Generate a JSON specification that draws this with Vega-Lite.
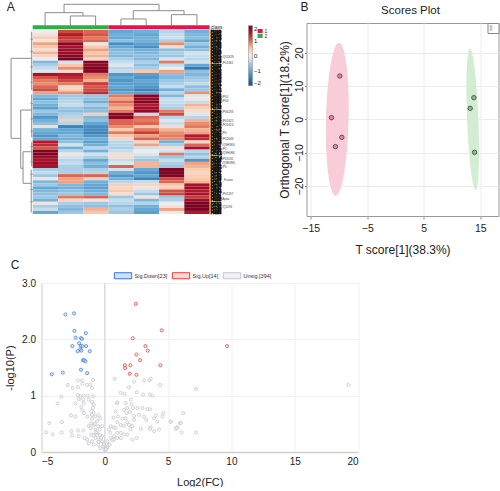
{"$schema":"https://vega.github.io/schema/vega-lite/v6.json","background":"white","padding":{"left":4.5,"top":0,"right":0,"bottom":0},"bounds":"flush","spacing":260,
"config":{"font":"Liberation Sans","view":{"stroke":null},"axis":{"labelFont":"Liberation Sans","titleFont":"Liberation Sans"},"legend":{"labelFont":"Liberation Sans"}},
"datasets":{
"heat":[
{"r":0,"r2":1,"c":0,"c2":1,"v":0},{"r":1,"r2":2,"c":0,"c2":1,"v":0.1},{"r":2,"r2":3,"c":0,"c2":1,"v":0.4},{"r":3,"r2":4,"c":0,"c2":1,"v":0.1},{"r":4,"r2":5,"c":0,"c2":1,"v":0.7},{"r":5,"r2":6,"c":0,"c2":1,"v":0.5},{"r":6,"r2":7,"c":0,"c2":1,"v":0.2},{"r":7,"r2":8,"c":0,"c2":1,"v":0.6},{"r":8,"r2":9,"c":0,"c2":1,"v":0.3},{"r":9,"r2":10,"c":0,"c2":1,"v":0},{"r":10,"r2":11,"c":0,"c2":1,"v":-0.8},{"r":11,"r2":12,"c":0,"c2":1,"v":-0.5},{"r":12,"r2":13,"c":0,"c2":1,"v":-0.3},{"r":13,"r2":14,"c":0,"c2":1,"v":-0.1},{"r":14,"r2":15,"c":0,"c2":1,"v":1.6},{"r":15,"r2":16,"c":0,"c2":1,"v":1.1},{"r":16,"r2":17,"c":0,"c2":1,"v":0.9},{"r":17,"r2":18,"c":0,"c2":1,"v":0.8},{"r":18,"r2":19,"c":0,"c2":1,"v":1},{"r":19,"r2":20,"c":0,"c2":1,"v":1.2},{"r":20,"r2":21,"c":0,"c2":1,"v":0.7},{"r":21,"r2":22,"c":0,"c2":1,"v":-0.8},{"r":22,"r2":23,"c":0,"c2":1,"v":-1},{"r":23,"r2":24,"c":0,"c2":1,"v":-0.7},{"r":24,"r2":25,"c":0,"c2":1,"v":-0.9},{"r":25,"r2":26,"c":0,"c2":1,"v":-1.1},{"r":26,"r2":27,"c":0,"c2":1,"v":-0.6},{"r":27,"r2":28,"c":0,"c2":1,"v":-0.8},{"r":28,"r2":29,"c":0,"c2":1,"v":-1.2},{"r":29,"r2":30,"c":0,"c2":1,"v":-0.9},{"r":30,"r2":31,"c":0,"c2":1,"v":-0.7},{"r":31,"r2":32,"c":0,"c2":1,"v":0.2},{"r":32,"r2":33,"c":0,"c2":1,"v":-0.9},{"r":33,"r2":34,"c":0,"c2":1,"v":-1},{"r":34,"r2":35,"c":0,"c2":1,"v":-1.2},{"r":35,"r2":36,"c":0,"c2":1,"v":-1},{"r":36,"r2":37,"c":0,"c2":1,"v":1.5},{"r":37,"r2":38,"c":0,"c2":1,"v":1.4},{"r":38,"r2":39,"c":0,"c2":1,"v":1.1},{"r":39,"r2":40,"c":0,"c2":1,"v":1.95},{"r":40,"r2":41,"c":0,"c2":1,"v":1.95},{"r":41,"r2":42,"c":0,"c2":1,"v":1.7},{"r":42,"r2":43,"c":0,"c2":1,"v":1.6},{"r":43,"r2":44,"c":0,"c2":1,"v":1.7},{"r":44,"r2":45,"c":0,"c2":1,"v":1.6},{"r":45,"r2":46,"c":0,"c2":1,"v":-0.5},{"r":46,"r2":47,"c":0,"c2":1,"v":-0.3},{"r":47,"r2":48,"c":0,"c2":1,"v":-0.6},{"r":48,"r2":49,"c":0,"c2":1,"v":0.1},{"r":49,"r2":50,"c":0,"c2":1,"v":-0.8},{"r":50,"r2":51,"c":0,"c2":1,"v":-0.6},{"r":51,"r2":52,"c":0,"c2":1,"v":-1},{"r":52,"r2":53,"c":0,"c2":1,"v":-0.8},{"r":53,"r2":54,"c":0,"c2":1,"v":-0.7},{"r":54,"r2":55,"c":0,"c2":1,"v":-0.6},{"r":55,"r2":56,"c":0,"c2":1,"v":-0.9},{"r":56,"r2":57,"c":0,"c2":1,"v":0.1},{"r":57,"r2":58,"c":0,"c2":1,"v":-0.5},{"r":58,"r2":59,"c":0,"c2":1,"v":-0.3},{"r":59,"r2":60,"c":0,"c2":1,"v":-1},
{"r":0,"r2":1,"c":1,"c2":2,"v":1.2},{"r":1,"r2":2,"c":1,"c2":2,"v":1.5},{"r":2,"r2":3,"c":1,"c2":2,"v":1.3},{"r":3,"r2":4,"c":1,"c2":2,"v":1.2},{"r":4,"r2":5,"c":1,"c2":2,"v":1.9},{"r":5,"r2":6,"c":1,"c2":2,"v":1.6},{"r":6,"r2":7,"c":1,"c2":2,"v":1.7},{"r":7,"r2":8,"c":1,"c2":2,"v":1.7},{"r":8,"r2":9,"c":1,"c2":2,"v":1.9},{"r":9,"r2":10,"c":1,"c2":2,"v":2},{"r":10,"r2":11,"c":1,"c2":2,"v":-0.2},{"r":11,"r2":12,"c":1,"c2":2,"v":0.5},{"r":12,"r2":13,"c":1,"c2":2,"v":0.8},{"r":13,"r2":14,"c":1,"c2":2,"v":0.2},{"r":14,"r2":15,"c":1,"c2":2,"v":1.5},{"r":15,"r2":16,"c":1,"c2":2,"v":1.4},{"r":16,"r2":17,"c":1,"c2":2,"v":1.2},{"r":17,"r2":18,"c":1,"c2":2,"v":0.9},{"r":18,"r2":19,"c":1,"c2":2,"v":0.3},{"r":19,"r2":20,"c":1,"c2":2,"v":0.4},{"r":20,"r2":21,"c":1,"c2":2,"v":0.8},{"r":21,"r2":22,"c":1,"c2":2,"v":-0.6},{"r":22,"r2":23,"c":1,"c2":2,"v":-0.5},{"r":23,"r2":24,"c":1,"c2":2,"v":-0.4},{"r":24,"r2":25,"c":1,"c2":2,"v":-0.3},{"r":25,"r2":26,"c":1,"c2":2,"v":-0.6},{"r":26,"r2":27,"c":1,"c2":2,"v":-0.7},{"r":27,"r2":28,"c":1,"c2":2,"v":-0.5},{"r":28,"r2":29,"c":1,"c2":2,"v":-0.4},{"r":29,"r2":30,"c":1,"c2":2,"v":0.4},{"r":30,"r2":31,"c":1,"c2":2,"v":-0.4},{"r":31,"r2":32,"c":1,"c2":2,"v":-1.4},{"r":32,"r2":33,"c":1,"c2":2,"v":-1},{"r":33,"r2":34,"c":1,"c2":2,"v":-1},{"r":34,"r2":35,"c":1,"c2":2,"v":-0.8},{"r":35,"r2":36,"c":1,"c2":2,"v":-0.9},{"r":36,"r2":37,"c":1,"c2":2,"v":-0.7},{"r":37,"r2":38,"c":1,"c2":2,"v":-0.2},{"r":38,"r2":39,"c":1,"c2":2,"v":-0.9},{"r":39,"r2":40,"c":1,"c2":2,"v":-0.4},{"r":40,"r2":41,"c":1,"c2":2,"v":0.1},{"r":41,"r2":42,"c":1,"c2":2,"v":-0.2},{"r":42,"r2":43,"c":1,"c2":2,"v":-0.4},{"r":43,"r2":44,"c":1,"c2":2,"v":-0.3},{"r":44,"r2":45,"c":1,"c2":2,"v":-0.5},{"r":45,"r2":46,"c":1,"c2":2,"v":-0.5},{"r":46,"r2":47,"c":1,"c2":2,"v":-0.5},{"r":47,"r2":48,"c":1,"c2":2,"v":1},{"r":48,"r2":49,"c":1,"c2":2,"v":0.7},{"r":49,"r2":50,"c":1,"c2":2,"v":0.7},{"r":50,"r2":51,"c":1,"c2":2,"v":-0.8},{"r":51,"r2":52,"c":1,"c2":2,"v":-0.9},{"r":52,"r2":53,"c":1,"c2":2,"v":-0.7},{"r":53,"r2":54,"c":1,"c2":2,"v":-0.6},{"r":54,"r2":55,"c":1,"c2":2,"v":0.9},{"r":55,"r2":56,"c":1,"c2":2,"v":0.3},{"r":56,"r2":57,"c":1,"c2":2,"v":-0.5},{"r":57,"r2":58,"c":1,"c2":2,"v":-0.7},{"r":58,"r2":59,"c":1,"c2":2,"v":-0.8},{"r":59,"r2":60,"c":1,"c2":2,"v":-0.6},
{"r":0,"r2":1,"c":2,"c2":3,"v":1},{"r":1,"r2":2,"c":2,"c2":3,"v":1.1},{"r":2,"r2":3,"c":2,"c2":3,"v":0.9},{"r":3,"r2":4,"c":2,"c2":3,"v":1},{"r":4,"r2":5,"c":2,"c2":3,"v":0.1},{"r":5,"r2":6,"c":2,"c2":3,"v":0.5},{"r":6,"r2":7,"c":2,"c2":3,"v":0.7},{"r":7,"r2":8,"c":2,"c2":3,"v":0.5},{"r":8,"r2":9,"c":2,"c2":3,"v":0.6},{"r":9,"r2":10,"c":2,"c2":3,"v":0.3},{"r":10,"r2":11,"c":2,"c2":3,"v":1.9},{"r":11,"r2":12,"c":2,"c2":3,"v":1.8},{"r":12,"r2":13,"c":2,"c2":3,"v":2},{"r":13,"r2":14,"c":2,"c2":3,"v":1.9},{"r":14,"r2":15,"c":2,"c2":3,"v":0.9},{"r":15,"r2":16,"c":2,"c2":3,"v":0.8},{"r":16,"r2":17,"c":2,"c2":3,"v":0.6},{"r":17,"r2":18,"c":2,"c2":3,"v":1.3},{"r":18,"r2":19,"c":2,"c2":3,"v":1.1},{"r":19,"r2":20,"c":2,"c2":3,"v":1.2},{"r":20,"r2":21,"c":2,"c2":3,"v":1.4},{"r":21,"r2":22,"c":2,"c2":3,"v":-0.6},{"r":22,"r2":23,"c":2,"c2":3,"v":-0.7},{"r":23,"r2":24,"c":2,"c2":3,"v":-0.9},{"r":24,"r2":25,"c":2,"c2":3,"v":-0.5},{"r":25,"r2":26,"c":2,"c2":3,"v":-0.8},{"r":26,"r2":27,"c":2,"c2":3,"v":-0.7},{"r":27,"r2":28,"c":2,"c2":3,"v":0.4},{"r":28,"r2":29,"c":2,"c2":3,"v":-0.8},{"r":29,"r2":30,"c":2,"c2":3,"v":-0.7},{"r":30,"r2":31,"c":2,"c2":3,"v":-1},{"r":31,"r2":32,"c":2,"c2":3,"v":-1.3},{"r":32,"r2":33,"c":2,"c2":3,"v":-1.3},{"r":33,"r2":34,"c":2,"c2":3,"v":-1.4},{"r":34,"r2":35,"c":2,"c2":3,"v":-1.2},{"r":35,"r2":36,"c":2,"c2":3,"v":-0.9},{"r":36,"r2":37,"c":2,"c2":3,"v":-1.1},{"r":37,"r2":38,"c":2,"c2":3,"v":-0.9},{"r":38,"r2":39,"c":2,"c2":3,"v":-0.4},{"r":39,"r2":40,"c":2,"c2":3,"v":-0.9},{"r":40,"r2":41,"c":2,"c2":3,"v":-0.2},{"r":41,"r2":42,"c":2,"c2":3,"v":-0.5},{"r":42,"r2":43,"c":2,"c2":3,"v":-1},{"r":43,"r2":44,"c":2,"c2":3,"v":-0.7},{"r":44,"r2":45,"c":2,"c2":3,"v":-0.9},{"r":45,"r2":46,"c":2,"c2":3,"v":-0.5},{"r":46,"r2":47,"c":2,"c2":3,"v":-0.4},{"r":47,"r2":48,"c":2,"c2":3,"v":1},{"r":48,"r2":49,"c":2,"c2":3,"v":0.4},{"r":49,"r2":50,"c":2,"c2":3,"v":-0.9},{"r":50,"r2":51,"c":2,"c2":3,"v":-1},{"r":51,"r2":52,"c":2,"c2":3,"v":-1.1},{"r":52,"r2":53,"c":2,"c2":3,"v":-0.9},{"r":53,"r2":54,"c":2,"c2":3,"v":-0.8},{"r":54,"r2":55,"c":2,"c2":3,"v":1},{"r":55,"r2":56,"c":2,"c2":3,"v":0.1},{"r":56,"r2":57,"c":2,"c2":3,"v":-0.6},{"r":57,"r2":58,"c":2,"c2":3,"v":-0.7},{"r":58,"r2":59,"c":2,"c2":3,"v":0.6},{"r":59,"r2":60,"c":2,"c2":3,"v":0.5},
{"r":0,"r2":1,"c":3,"c2":4,"v":-1},{"r":1,"r2":2,"c":3,"c2":4,"v":-0.9},{"r":2,"r2":3,"c":3,"c2":4,"v":-1},{"r":3,"r2":4,"c":3,"c2":4,"v":-0.7},{"r":4,"r2":5,"c":3,"c2":4,"v":-1.3},{"r":5,"r2":6,"c":3,"c2":4,"v":-1},{"r":6,"r2":7,"c":3,"c2":4,"v":-0.8},{"r":7,"r2":8,"c":3,"c2":4,"v":-0.7},{"r":8,"r2":9,"c":3,"c2":4,"v":-0.8},{"r":9,"r2":10,"c":3,"c2":4,"v":-0.5},{"r":10,"r2":11,"c":3,"c2":4,"v":-0.3},{"r":11,"r2":12,"c":3,"c2":4,"v":-0.1},{"r":12,"r2":13,"c":3,"c2":4,"v":-0.4},{"r":13,"r2":14,"c":3,"c2":4,"v":-0.3},{"r":14,"r2":15,"c":3,"c2":4,"v":-1.2},{"r":15,"r2":16,"c":3,"c2":4,"v":-1},{"r":16,"r2":17,"c":3,"c2":4,"v":-1.2},{"r":17,"r2":18,"c":3,"c2":4,"v":-1.1},{"r":18,"r2":19,"c":3,"c2":4,"v":-1},{"r":19,"r2":20,"c":3,"c2":4,"v":-1.2},{"r":20,"r2":21,"c":3,"c2":4,"v":-1},{"r":21,"r2":22,"c":3,"c2":4,"v":0.9},{"r":22,"r2":23,"c":3,"c2":4,"v":0.7},{"r":23,"r2":24,"c":3,"c2":4,"v":1},{"r":24,"r2":25,"c":3,"c2":4,"v":0.8},{"r":25,"r2":26,"c":3,"c2":4,"v":0.6},{"r":26,"r2":27,"c":3,"c2":4,"v":0.9},{"r":27,"r2":28,"c":3,"c2":4,"v":1.9},{"r":28,"r2":29,"c":3,"c2":4,"v":1.9},{"r":29,"r2":30,"c":3,"c2":4,"v":1},{"r":30,"r2":31,"c":3,"c2":4,"v":1},{"r":31,"r2":32,"c":3,"c2":4,"v":0.8},{"r":32,"r2":33,"c":3,"c2":4,"v":0.5},{"r":33,"r2":34,"c":3,"c2":4,"v":0.9},{"r":34,"r2":35,"c":3,"c2":4,"v":0.5},{"r":35,"r2":36,"c":3,"c2":4,"v":0.3},{"r":36,"r2":37,"c":3,"c2":4,"v":-0.4},{"r":37,"r2":38,"c":3,"c2":4,"v":-0.4},{"r":38,"r2":39,"c":3,"c2":4,"v":-0.5},{"r":39,"r2":40,"c":3,"c2":4,"v":-0.3},{"r":40,"r2":41,"c":3,"c2":4,"v":0.2},{"r":41,"r2":42,"c":3,"c2":4,"v":0.2},{"r":42,"r2":43,"c":3,"c2":4,"v":-0.3},{"r":43,"r2":44,"c":3,"c2":4,"v":-0.1},{"r":44,"r2":45,"c":3,"c2":4,"v":1},{"r":45,"r2":46,"c":3,"c2":4,"v":-0.2},{"r":46,"r2":47,"c":3,"c2":4,"v":-0.9},{"r":47,"r2":48,"c":3,"c2":4,"v":-1.2},{"r":48,"r2":49,"c":3,"c2":4,"v":-0.9},{"r":49,"r2":50,"c":3,"c2":4,"v":-0.4},{"r":50,"r2":51,"c":3,"c2":4,"v":0.4},{"r":51,"r2":52,"c":3,"c2":4,"v":0.3},{"r":52,"r2":53,"c":3,"c2":4,"v":0.5},{"r":53,"r2":54,"c":3,"c2":4,"v":0.2},{"r":54,"r2":55,"c":3,"c2":4,"v":-0.6},{"r":55,"r2":56,"c":3,"c2":4,"v":-0.3},{"r":56,"r2":57,"c":3,"c2":4,"v":-0.4},{"r":57,"r2":58,"c":3,"c2":4,"v":-0.7},{"r":58,"r2":59,"c":3,"c2":4,"v":-0.5},{"r":59,"r2":60,"c":3,"c2":4,"v":-0.6},
{"r":0,"r2":1,"c":4,"c2":5,"v":-0.9},{"r":1,"r2":2,"c":4,"c2":5,"v":-1},{"r":2,"r2":3,"c":4,"c2":5,"v":-0.9},{"r":3,"r2":4,"c":4,"c2":5,"v":-0.9},{"r":4,"r2":5,"c":4,"c2":5,"v":-1.1},{"r":5,"r2":6,"c":4,"c2":5,"v":-1.3},{"r":6,"r2":7,"c":4,"c2":5,"v":-0.9},{"r":7,"r2":8,"c":4,"c2":5,"v":-0.8},{"r":8,"r2":9,"c":4,"c2":5,"v":-0.7},{"r":9,"r2":10,"c":4,"c2":5,"v":-0.8},{"r":10,"r2":11,"c":4,"c2":5,"v":-0.5},{"r":11,"r2":12,"c":4,"c2":5,"v":-0.7},{"r":12,"r2":13,"c":4,"c2":5,"v":-0.5},{"r":13,"r2":14,"c":4,"c2":5,"v":0.5},{"r":14,"r2":15,"c":4,"c2":5,"v":-1.1},{"r":15,"r2":16,"c":4,"c2":5,"v":-1.2},{"r":16,"r2":17,"c":4,"c2":5,"v":-1},{"r":17,"r2":18,"c":4,"c2":5,"v":-1.1},{"r":18,"r2":19,"c":4,"c2":5,"v":-1.2},{"r":19,"r2":20,"c":4,"c2":5,"v":-1.4},{"r":20,"r2":21,"c":4,"c2":5,"v":-1.1},{"r":21,"r2":22,"c":4,"c2":5,"v":1.9},{"r":22,"r2":23,"c":4,"c2":5,"v":1.8},{"r":23,"r2":24,"c":4,"c2":5,"v":1.9},{"r":24,"r2":25,"c":4,"c2":5,"v":1.5},{"r":25,"r2":26,"c":4,"c2":5,"v":1.7},{"r":26,"r2":27,"c":4,"c2":5,"v":1.8},{"r":27,"r2":28,"c":4,"c2":5,"v":-0.3},{"r":28,"r2":29,"c":4,"c2":5,"v":1},{"r":29,"r2":30,"c":4,"c2":5,"v":0.9},{"r":30,"r2":31,"c":4,"c2":5,"v":1},{"r":31,"r2":32,"c":4,"c2":5,"v":0.5},{"r":32,"r2":33,"c":4,"c2":5,"v":0.9},{"r":33,"r2":34,"c":4,"c2":5,"v":1.3},{"r":34,"r2":35,"c":4,"c2":5,"v":0.7},{"r":35,"r2":36,"c":4,"c2":5,"v":1},{"r":36,"r2":37,"c":4,"c2":5,"v":0.3},{"r":37,"r2":38,"c":4,"c2":5,"v":0.7},{"r":38,"r2":39,"c":4,"c2":5,"v":-0.2},{"r":39,"r2":40,"c":4,"c2":5,"v":0},{"r":40,"r2":41,"c":4,"c2":5,"v":-0.1},{"r":41,"r2":42,"c":4,"c2":5,"v":-0.4},{"r":42,"r2":43,"c":4,"c2":5,"v":-0.6},{"r":43,"r2":44,"c":4,"c2":5,"v":0.6},{"r":44,"r2":45,"c":4,"c2":5,"v":0.6},{"r":45,"r2":46,"c":4,"c2":5,"v":-1},{"r":46,"r2":47,"c":4,"c2":5,"v":-1.2},{"r":47,"r2":48,"c":4,"c2":5,"v":-1},{"r":48,"r2":49,"c":4,"c2":5,"v":-1.4},{"r":49,"r2":50,"c":4,"c2":5,"v":-0.3},{"r":50,"r2":51,"c":4,"c2":5,"v":0.3},{"r":51,"r2":52,"c":4,"c2":5,"v":0.1},{"r":52,"r2":53,"c":4,"c2":5,"v":-0.3},{"r":53,"r2":54,"c":4,"c2":5,"v":-0.6},{"r":54,"r2":55,"c":4,"c2":5,"v":0.1},{"r":55,"r2":56,"c":4,"c2":5,"v":-0.8},{"r":56,"r2":57,"c":4,"c2":5,"v":-0.4},{"r":57,"r2":58,"c":4,"c2":5,"v":-0.9},{"r":58,"r2":59,"c":4,"c2":5,"v":-1},{"r":59,"r2":60,"c":4,"c2":5,"v":-1.1},
{"r":0,"r2":1,"c":5,"c2":6,"v":-0.4},{"r":1,"r2":2,"c":5,"c2":6,"v":-0.3},{"r":2,"r2":3,"c":5,"c2":6,"v":-0.2},{"r":3,"r2":4,"c":5,"c2":6,"v":-0.5},{"r":4,"r2":5,"c":5,"c2":6,"v":0.8},{"r":5,"r2":6,"c":5,"c2":6,"v":0.2},{"r":6,"r2":7,"c":5,"c2":6,"v":-0.7},{"r":7,"r2":8,"c":5,"c2":6,"v":-0.5},{"r":8,"r2":9,"c":5,"c2":6,"v":-0.6},{"r":9,"r2":10,"c":5,"c2":6,"v":-0.2},{"r":10,"r2":11,"c":5,"c2":6,"v":0.9},{"r":11,"r2":12,"c":5,"c2":6,"v":-0.3},{"r":12,"r2":13,"c":5,"c2":6,"v":0},{"r":13,"r2":14,"c":5,"c2":6,"v":0.7},{"r":14,"r2":15,"c":5,"c2":6,"v":-0.7},{"r":15,"r2":16,"c":5,"c2":6,"v":-0.8},{"r":16,"r2":17,"c":5,"c2":6,"v":-0.6},{"r":17,"r2":18,"c":5,"c2":6,"v":-0.5},{"r":18,"r2":19,"c":5,"c2":6,"v":-0.3},{"r":19,"r2":20,"c":5,"c2":6,"v":-0.9},{"r":20,"r2":21,"c":5,"c2":6,"v":-0.4},{"r":21,"r2":22,"c":5,"c2":6,"v":-0.8},{"r":22,"r2":23,"c":5,"c2":6,"v":-0.3},{"r":23,"r2":24,"c":5,"c2":6,"v":-0.3},{"r":24,"r2":25,"c":5,"c2":6,"v":-0.4},{"r":25,"r2":26,"c":5,"c2":6,"v":-0.5},{"r":26,"r2":27,"c":5,"c2":6,"v":0.9},{"r":27,"r2":28,"c":5,"c2":6,"v":1.2},{"r":28,"r2":29,"c":5,"c2":6,"v":-0.4},{"r":29,"r2":30,"c":5,"c2":6,"v":-0.1},{"r":30,"r2":31,"c":5,"c2":6,"v":-0.3},{"r":31,"r2":32,"c":5,"c2":6,"v":0.2},{"r":32,"r2":33,"c":5,"c2":6,"v":0.6},{"r":33,"r2":34,"c":5,"c2":6,"v":0.8},{"r":34,"r2":35,"c":5,"c2":6,"v":0.9},{"r":35,"r2":36,"c":5,"c2":6,"v":0.8},{"r":36,"r2":37,"c":5,"c2":6,"v":-0.9},{"r":37,"r2":38,"c":5,"c2":6,"v":-0.5},{"r":38,"r2":39,"c":5,"c2":6,"v":0.2},{"r":39,"r2":40,"c":5,"c2":6,"v":-0.2},{"r":40,"r2":41,"c":5,"c2":6,"v":0.9},{"r":41,"r2":42,"c":5,"c2":6,"v":-0.6},{"r":42,"r2":43,"c":5,"c2":6,"v":-0.3},{"r":43,"r2":44,"c":5,"c2":6,"v":-0.5},{"r":44,"r2":45,"c":5,"c2":6,"v":-0.6},{"r":45,"r2":46,"c":5,"c2":6,"v":1.95},{"r":46,"r2":47,"c":5,"c2":6,"v":1.95},{"r":47,"r2":48,"c":5,"c2":6,"v":1.95},{"r":48,"r2":49,"c":5,"c2":6,"v":1.2},{"r":49,"r2":50,"c":5,"c2":6,"v":1},{"r":50,"r2":51,"c":5,"c2":6,"v":0.5},{"r":51,"r2":52,"c":5,"c2":6,"v":0.4},{"r":52,"r2":53,"c":5,"c2":6,"v":1.1},{"r":53,"r2":54,"c":5,"c2":6,"v":1.2},{"r":54,"r2":55,"c":5,"c2":6,"v":-0.6},{"r":55,"r2":56,"c":5,"c2":6,"v":-0.5},{"r":56,"r2":57,"c":5,"c2":6,"v":0},{"r":57,"r2":58,"c":5,"c2":6,"v":0.1},{"r":58,"r2":59,"c":5,"c2":6,"v":0.7},{"r":59,"r2":60,"c":5,"c2":6,"v":0},
{"r":0,"r2":1,"c":6,"c2":7,"v":-0.9},{"r":1,"r2":2,"c":6,"c2":7,"v":-0.8},{"r":2,"r2":3,"c":6,"c2":7,"v":-0.7},{"r":3,"r2":4,"c":6,"c2":7,"v":-1},{"r":4,"r2":5,"c":6,"c2":7,"v":-0.6},{"r":5,"r2":6,"c":6,"c2":7,"v":-0.9},{"r":6,"r2":7,"c":6,"c2":7,"v":-0.7},{"r":7,"r2":8,"c":6,"c2":7,"v":-0.2},{"r":8,"r2":9,"c":6,"c2":7,"v":-0.3},{"r":9,"r2":10,"c":6,"c2":7,"v":-0.4},{"r":10,"r2":11,"c":6,"c2":7,"v":-0.2},{"r":11,"r2":12,"c":6,"c2":7,"v":-1},{"r":12,"r2":13,"c":6,"c2":7,"v":-1.5},{"r":13,"r2":14,"c":6,"c2":7,"v":-0.7},{"r":14,"r2":15,"c":6,"c2":7,"v":-0.8},{"r":15,"r2":16,"c":6,"c2":7,"v":-0.6},{"r":16,"r2":17,"c":6,"c2":7,"v":-0.5},{"r":17,"r2":18,"c":6,"c2":7,"v":-0.3},{"r":18,"r2":19,"c":6,"c2":7,"v":-0.7},{"r":19,"r2":20,"c":6,"c2":7,"v":-0.6},{"r":20,"r2":21,"c":6,"c2":7,"v":0.8},{"r":21,"r2":22,"c":6,"c2":7,"v":-0.1},{"r":22,"r2":23,"c":6,"c2":7,"v":0.1},{"r":23,"r2":24,"c":6,"c2":7,"v":-0.3},{"r":24,"r2":25,"c":6,"c2":7,"v":0.6},{"r":25,"r2":26,"c":6,"c2":7,"v":0.4},{"r":26,"r2":27,"c":6,"c2":7,"v":0.2},{"r":27,"r2":28,"c":6,"c2":7,"v":-0.1},{"r":28,"r2":29,"c":6,"c2":7,"v":-0.4},{"r":29,"r2":30,"c":6,"c2":7,"v":0.6},{"r":30,"r2":31,"c":6,"c2":7,"v":0.8},{"r":31,"r2":32,"c":6,"c2":7,"v":0.9},{"r":32,"r2":33,"c":6,"c2":7,"v":0.6},{"r":33,"r2":34,"c":6,"c2":7,"v":0.7},{"r":34,"r2":35,"c":6,"c2":7,"v":1.5},{"r":35,"r2":36,"c":6,"c2":7,"v":1.4},{"r":36,"r2":37,"c":6,"c2":7,"v":0.3},{"r":37,"r2":38,"c":6,"c2":7,"v":1},{"r":38,"r2":39,"c":6,"c2":7,"v":1.6},{"r":39,"r2":40,"c":6,"c2":7,"v":-0.4},{"r":40,"r2":41,"c":6,"c2":7,"v":-0.7},{"r":41,"r2":42,"c":6,"c2":7,"v":-0.4},{"r":42,"r2":43,"c":6,"c2":7,"v":-1.2},{"r":43,"r2":44,"c":6,"c2":7,"v":0.7},{"r":44,"r2":45,"c":6,"c2":7,"v":0.6},{"r":45,"r2":46,"c":6,"c2":7,"v":0.4},{"r":46,"r2":47,"c":6,"c2":7,"v":0.3},{"r":47,"r2":48,"c":6,"c2":7,"v":0.4},{"r":48,"r2":49,"c":6,"c2":7,"v":0.5},{"r":49,"r2":50,"c":6,"c2":7,"v":0.6},{"r":50,"r2":51,"c":6,"c2":7,"v":1.6},{"r":51,"r2":52,"c":6,"c2":7,"v":1.7},{"r":52,"r2":53,"c":6,"c2":7,"v":1.5},{"r":53,"r2":54,"c":6,"c2":7,"v":1.6},{"r":54,"r2":55,"c":6,"c2":7,"v":1.3},{"r":55,"r2":56,"c":6,"c2":7,"v":1.7},{"r":56,"r2":57,"c":6,"c2":7,"v":2},{"r":57,"r2":58,"c":6,"c2":7,"v":2},{"r":58,"r2":59,"c":6,"c2":7,"v":2},{"r":59,"r2":60,"c":6,"c2":7,"v":1.5}
],
"dendro":[
{"u":1.24,"u2":5,"v":-8.37,"v2":-8.37},{"u":1.24,"u2":1.24,"v":-8.37,"v2":-5.65},{"u":5,"u2":5,"v":-8.37,"v2":-6.3},
{"u":0.49,"u2":1.99,"v":-5.65,"v2":-5.65},{"u":0.49,"u2":0.49,"v":-5.65,"v2":-1.52},{"u":1.99,"u2":1.99,"v":-5.65,"v2":-4.57},
{"u":1.49,"u2":2.49,"v":-4.57,"v2":-4.57},{"u":1.49,"u2":1.49,"v":-4.57,"v2":-1.52},{"u":2.49,"u2":2.49,"v":-4.57,"v2":-1.52},
{"u":3.98,"u2":5.99,"v":-6.3,"v2":-6.3},{"u":3.98,"u2":3.98,"v":-6.3,"v2":-3.59},{"u":5.99,"u2":5.99,"v":-6.3,"v2":-5},
{"u":3.49,"u2":4.49,"v":-3.59,"v2":-3.59},{"u":3.49,"u2":3.49,"v":-3.59,"v2":-1.52},{"u":4.49,"u2":4.49,"v":-3.59,"v2":-1.52},
{"u":5.49,"u2":6.5,"v":-5,"v2":-5},{"u":5.49,"u2":5.49,"v":-5,"v2":-1.52},{"u":6.5,"u2":6.5,"v":-5,"v2":-1.52},
{"u":-0.856,"u2":-0.856,"v":9.24,"v2":35.33},{"u":-0.856,"u2":-0.04,"v":9.24,"v2":9.24},{"u":-0.04,"u2":-0.04,"v":0.5,"v2":19.6},
{"u":-0.856,"u2":-0.474,"v":35.33,"v2":35.33},{"u":-0.474,"u2":-0.474,"v":26.1,"v2":45.1},{"u":-0.474,"u2":-0.04,"v":26.1,"v2":26.1},{"u":-0.04,"u2":-0.04,"v":21,"v2":35},
{"u":-0.474,"u2":-0.382,"v":45.1,"v2":45.1},{"u":-0.382,"u2":-0.382,"v":39.7,"v2":50},{"u":-0.382,"u2":-0.04,"v":39.7,"v2":39.7},{"u":-0.04,"u2":-0.04,"v":36.5,"v2":44.5},{"u":-0.382,"u2":-0.06,"v":50,"v2":50},{"u":-0.06,"u2":-0.06,"v":45.5,"v2":59.5},
{"u":-0.09,"u2":0,"v":3,"v2":3},{"u":-0.09,"u2":0,"v":7,"v2":7},{"u":-0.09,"u2":0,"v":12,"v2":12},{"u":-0.09,"u2":0,"v":17,"v2":17},{"u":-0.09,"u2":0,"v":24,"v2":24},{"u":-0.09,"u2":0,"v":29,"v2":29},{"u":-0.09,"u2":0,"v":33,"v2":33},{"u":-0.09,"u2":0,"v":38,"v2":38},{"u":-0.09,"u2":0,"v":43,"v2":43},{"u":-0.09,"u2":0,"v":47,"v2":47},{"u":-0.09,"u2":0,"v":52,"v2":52},{"u":-0.09,"u2":0,"v":56,"v2":56}
],
"bars":[
{"u":0,"u2":3,"v":-1.52,"v2":-0.22,"k":"2"},{"u":3,"u2":7,"v":-1.52,"v2":-0.22,"k":"1"},
{"u":8.9,"u2":9.1,"v":-0.33,"v2":1,"k":"1"},{"u":8.9,"u2":9.1,"v":1.3,"v2":2.6,"k":"2"}
],
"atexts":[
{"u":9.17,"v":0.35,"t":"1"},{"u":9.17,"v":1.95,"t":"2"},{"u":7.06,"v":-1,"t":"class"}
],
"rowmass":[
{"v":0.5,"t":"P02649"},{"v":1.5,"t":"P01024"},{"v":2.5,"t":"P00738"},{"v":3.5,"t":"P02787"},{"v":4.5,"t":"P01009"},{"v":5.5,"t":"P02768"},{"v":6.5,"t":"P04114"},{"v":7.5,"t":"P00450"},{"v":8.5,"t":"P02671"},{"v":9.5,"t":"P02675"},{"v":10.5,"t":"P02679"},{"v":11.5,"t":"P01023"},{"v":12.5,"t":"P68871"},{"v":13.5,"t":"P69905"},{"v":14.5,"t":"P01859"},{"v":15.5,"t":"P01860"},{"v":16.5,"t":"P01834"},{"v":17.5,"t":"P01871"},{"v":18.5,"t":"P02647"},{"v":19.5,"t":"P02652"},{"v":20.5,"t":"P06727"},{"v":21.5,"t":"P02656"},{"v":22.5,"t":"P05090"},{"v":23.5,"t":"P08603"},{"v":24.5,"t":"P00751"},{"v":25.5,"t":"P02748"},{"v":26.5,"t":"P10909"},{"v":27.5,"t":"P04196"},{"v":28.5,"t":"P02743"},{"v":29.5,"t":"P02749"},{"v":30.5,"t":"P01008"},{"v":31.5,"t":"P00734"},{"v":32.5,"t":"P02774"},{"v":33.5,"t":"P01042"},{"v":34.5,"t":"P04004"},{"v":35.5,"t":"P02790"},{"v":36.5,"t":"P19823"},{"v":37.5,"t":"P19827"},{"v":38.5,"t":"P01011"},{"v":39.5,"t":"P05155"},{"v":40.5,"t":"P0C0L5"},{"v":41.5,"t":"P0C0L4"},{"v":42.5,"t":"P06396"},{"v":43.5,"t":"P25311"},{"v":44.5,"t":"P43652"},{"v":45.5,"t":"P08697"},{"v":46.5,"t":"P07357"},{"v":47.5,"t":"P07358"},{"v":48.5,"t":"P07360"},{"v":49.5,"t":"P13671"},{"v":50.5,"t":"P02760"},{"v":51.5,"t":"P00747"},{"v":52.5,"t":"P03952"},{"v":53.5,"t":"P04217"},{"v":54.5,"t":"P01591"},{"v":55.5,"t":"P05546"},{"v":56.5,"t":"P20742"},{"v":57.5,"t":"P22792"},{"v":58.5,"t":"P15169"},{"v":59.5,"t":"P04003"}
],
"rowlong":[
{"v":8.7,"t":"/Q01829"},{"v":10.7,"t":"/P01861"},{"v":21.8,"t":"/P01"},{"v":23,"t":"/P04"},{"v":26.5,"t":"/P06293"},{"v":29.6,"t":"/P01625"},{"v":30.9,"t":"/P01614"},{"v":33.5,"t":"/P0"},{"v":35.6,"t":"/P02649"},{"v":37.3,"t":"/Q9H3K6"},{"v":38.6,"t":"/P2"},{"v":40,"t":"/Q9H0R4"},{"v":42,"t":"/P01031"},{"v":43.3,"t":"/Q9BXR6"},{"v":44.6,"t":"/P0"},{"v":48.7,"t":"_Fusion"},{"v":53.5,"t":"/P01357"},{"v":55,"t":"Apoa"},{"v":57.6,"t":"/Q5296"}
],
"ellipse":[
{"g":"1","y":23,"a":-10,"b":-10},{"g":"1","y":22.5,"a":-10.41,"b":-9.61},{"g":"1","y":21.85,"a":-10.64,"b":-9.4},{"g":"1","y":20.7,"a":-10.9,"b":-9.16},{"g":"1","y":18.4,"a":-11.26,"b":-8.86},{"g":"1","y":16.1,"a":-11.52,"b":-8.66},{"g":"1","y":13.8,"a":-11.72,"b":-8.52},{"g":"1","y":11.5,"a":-11.88,"b":-8.42},{"g":"1","y":9.2,"a":-12.01,"b":-8.35},{"g":"1","y":6.9,"a":-12.12,"b":-8.3},{"g":"1","y":4.6,"a":-12.2,"b":-8.28},{"g":"1","y":2.3,"a":-12.26,"b":-8.28},{"g":"1","y":0,"a":-12.3,"b":-8.3},{"g":"1","y":-2.3,"a":-12.32,"b":-8.34},{"g":"1","y":-4.6,"a":-12.32,"b":-8.4},{"g":"1","y":-6.9,"a":-12.3,"b":-8.48},{"g":"1","y":-9.2,"a":-12.25,"b":-8.59},{"g":"1","y":-11.5,"a":-12.18,"b":-8.72},{"g":"1","y":-13.8,"a":-12.08,"b":-8.88},{"g":"1","y":-16.1,"a":-11.94,"b":-9.08},{"g":"1","y":-18.4,"a":-11.74,"b":-9.34},{"g":"1","y":-20.7,"a":-11.44,"b":-9.7},{"g":"1","y":-21.85,"a":-11.2,"b":-9.96},{"g":"1","y":-22.5,"a":-10.99,"b":-10.19},{"g":"1","y":-23,"a":-10.6,"b":-10.6},
{"g":"2","y":21.3,"a":13.17,"b":13.17},{"g":"2","y":20.87,"a":12.98,"b":13.38},{"g":"2","y":20.24,"a":12.88,"b":13.5},{"g":"2","y":19.17,"a":12.78,"b":13.66},{"g":"2","y":17.04,"a":12.67,"b":13.87},{"g":"2","y":14.91,"a":12.61,"b":14.03},{"g":"2","y":12.78,"a":12.57,"b":14.17},{"g":"2","y":10.65,"a":12.55,"b":14.29},{"g":"2","y":8.52,"a":12.55,"b":14.39},{"g":"2","y":6.39,"a":12.57,"b":14.47},{"g":"2","y":4.26,"a":12.59,"b":14.55},{"g":"2","y":2.13,"a":12.63,"b":14.62},{"g":"2","y":0,"a":12.67,"b":14.67},{"g":"2","y":-2.13,"a":12.73,"b":14.72},{"g":"2","y":-4.26,"a":12.79,"b":14.75},{"g":"2","y":-6.39,"a":12.87,"b":14.77},{"g":"2","y":-8.52,"a":12.95,"b":14.79},{"g":"2","y":-10.65,"a":13.05,"b":14.79},{"g":"2","y":-12.78,"a":13.17,"b":14.77},{"g":"2","y":-14.91,"a":13.31,"b":14.73},{"g":"2","y":-17.04,"a":13.47,"b":14.67},{"g":"2","y":-19.17,"a":13.68,"b":14.56},{"g":"2","y":-20.24,"a":13.84,"b":14.46},{"g":"2","y":-20.87,"a":13.97,"b":14.37},{"g":"2","y":-21.3,"a":14.17,"b":14.17}
],
"scores":[
{"x":-9.86,"y":13,"g":"1"},{"x":-11.33,"y":0.5,"g":"1"},{"x":-9.5,"y":-5.4,"g":"1"},{"x":-10.63,"y":-8.2,"g":"1"},{"x":13.87,"y":6.5,"g":"2"},{"x":13.22,"y":3.3,"g":"2"},{"x":13.99,"y":-9.9,"g":"2"}
],
"volcano":[
{"x":-2.93,"y":1.19,"s":"Unsig.[394]"},{"x":-2.54,"y":1.14,"s":"Unsig.[394]"},{"x":-2.14,"y":1.27,"s":"Unsig.[394]"},{"x":-1.8,"y":1.27,"s":"Unsig.[394]"},{"x":-1.77,"y":1.21,"s":"Unsig.[394]"},{"x":-2.11,"y":1.15,"s":"Unsig.[394]"},{"x":-1.4,"y":1.19,"s":"Unsig.[394]"},{"x":-1.14,"y":1.2,"s":"Unsig.[394]"},{"x":-0.93,"y":1.28,"s":"Unsig.[394]"},{"x":-1.01,"y":1.14,"s":"Unsig.[394]"},{"x":-3.43,"y":0.98,"s":"Unsig.[394]"},{"x":-3.72,"y":0.86,"s":"Unsig.[394]"},{"x":-4.38,"y":0.51,"s":"Unsig.[394]"},{"x":-4.64,"y":0.35,"s":"Unsig.[394]"},{"x":-4.12,"y":0.31,"s":"Unsig.[394]"},{"x":-3.38,"y":0.53,"s":"Unsig.[394]"},{"x":-3.4,"y":0.35,"s":"Unsig.[394]"},{"x":-2.67,"y":0.65,"s":"Unsig.[394]"},{"x":-2.32,"y":0.63,"s":"Unsig.[394]"},{"x":-2.64,"y":0.37,"s":"Unsig.[394]"},{"x":-2.59,"y":0.29,"s":"Unsig.[394]"},{"x":-2.11,"y":0.38,"s":"Unsig.[394]"},{"x":-1.69,"y":0.38,"s":"Unsig.[394]"},{"x":-2.06,"y":0.28,"s":"Unsig.[394]"},{"x":-1.61,"y":0.25,"s":"Unsig.[394]"},{"x":-2.11,"y":1.01,"s":"Unsig.[394]"},{"x":-1.93,"y":0.99,"s":"Unsig.[394]"},{"x":-1.67,"y":1,"s":"Unsig.[394]"},{"x":-1.35,"y":1,"s":"Unsig.[394]"},{"x":-2.06,"y":0.94,"s":"Unsig.[394]"},{"x":-1.72,"y":0.93,"s":"Unsig.[394]"},{"x":-1.27,"y":0.93,"s":"Unsig.[394]"},{"x":-0.93,"y":0.99,"s":"Unsig.[394]"},{"x":-2.32,"y":0.86,"s":"Unsig.[394]"},{"x":-1.67,"y":0.87,"s":"Unsig.[394]"},{"x":-1.01,"y":0.89,"s":"Unsig.[394]"},{"x":-0.88,"y":0.84,"s":"Unsig.[394]"},{"x":-0.93,"y":0.78,"s":"Unsig.[394]"},{"x":-1.85,"y":0.8,"s":"Unsig.[394]"},{"x":-1.77,"y":0.74,"s":"Unsig.[394]"},{"x":-1.64,"y":0.69,"s":"Unsig.[394]"},{"x":-1.38,"y":0.63,"s":"Unsig.[394]"},{"x":-1.06,"y":0.72,"s":"Unsig.[394]"},{"x":-1.01,"y":0.66,"s":"Unsig.[394]"},{"x":-0.75,"y":0.63,"s":"Unsig.[394]"},{"x":-1.01,"y":0.59,"s":"Unsig.[394]"},{"x":-1.27,"y":0.46,"s":"Unsig.[394]"},{"x":-0.88,"y":0.48,"s":"Unsig.[394]"},{"x":-0.53,"y":0.46,"s":"Unsig.[394]"},{"x":-0.75,"y":0.4,"s":"Unsig.[394]"},{"x":-0.35,"y":0.6,"s":"Unsig.[394]"},{"x":-1.06,"y":0.51,"s":"Unsig.[394]"},{"x":-0.22,"y":0.46,"s":"Unsig.[394]"},{"x":-0.61,"y":0.34,"s":"Unsig.[394]"},{"x":-1.06,"y":0.31,"s":"Unsig.[394]"},{"x":-0.75,"y":0.25,"s":"Unsig.[394]"},{"x":-1.4,"y":0.22,"s":"Unsig.[394]"},{"x":-1.01,"y":0.19,"s":"Unsig.[394]"},{"x":-0.48,"y":0.22,"s":"Unsig.[394]"},{"x":-0.22,"y":0.28,"s":"Unsig.[394]"},{"x":-0.53,"y":0.13,"s":"Unsig.[394]"},{"x":-0.88,"y":0.13,"s":"Unsig.[394]"},{"x":-1.27,"y":0.15,"s":"Unsig.[394]"},{"x":-0.35,"y":0.07,"s":"Unsig.[394]"},{"x":-0.09,"y":0.13,"s":"Unsig.[394]"},{"x":-0.01,"y":0.04,"s":"Unsig.[394]"},{"x":0.18,"y":0.07,"s":"Unsig.[394]"},{"x":0.31,"y":0.13,"s":"Unsig.[394]"},{"x":0.7,"y":0.22,"s":"Unsig.[394]"},{"x":0.44,"y":0.34,"s":"Unsig.[394]"},{"x":0.7,"y":0.43,"s":"Unsig.[394]"},{"x":1.05,"y":0.63,"s":"Unsig.[394]"},{"x":0.97,"y":0.87,"s":"Unsig.[394]"},{"x":-0.22,"y":0.19,"s":"Unsig.[394]"},{"x":-0.6,"y":0.3,"s":"Unsig.[394]"},{"x":-0.4,"y":0.3,"s":"Unsig.[394]"},{"x":-0.5,"y":0.18,"s":"Unsig.[394]"},{"x":-0.3,"y":0.25,"s":"Unsig.[394]"},{"x":-0.7,"y":0.35,"s":"Unsig.[394]"},{"x":-0.15,"y":0.1,"s":"Unsig.[394]"},{"x":0.1,"y":0.05,"s":"Unsig.[394]"},{"x":-0.8,"y":0.5,"s":"Unsig.[394]"},{"x":-0.6,"y":0.55,"s":"Unsig.[394]"},{"x":-0.5,"y":0.65,"s":"Unsig.[394]"},{"x":-0.9,"y":0.7,"s":"Unsig.[394]"},{"x":-1.1,"y":0.42,"s":"Unsig.[394]"},{"x":-0.4,"y":0.4,"s":"Unsig.[394]"},{"x":-0.9,"y":0.3,"s":"Unsig.[394]"},{"x":0.2,"y":0.1,"s":"Unsig.[394]"},
{"x":0.78,"y":1.3,"s":"Unsig.[394]"},{"x":2.31,"y":1.25,"s":"Unsig.[394]"},{"x":3.1,"y":1.27,"s":"Unsig.[394]"},{"x":3.52,"y":1.27,"s":"Unsig.[394]"},{"x":3.63,"y":1.3,"s":"Unsig.[394]"},{"x":4.36,"y":1.19,"s":"Unsig.[394]"},{"x":1.91,"y":1.15,"s":"Unsig.[394]"},{"x":1.26,"y":1.05,"s":"Unsig.[394]"},{"x":1.57,"y":1.03,"s":"Unsig.[394]"},{"x":2.52,"y":1.06,"s":"Unsig.[394]"},{"x":3.02,"y":1.02,"s":"Unsig.[394]"},{"x":3.57,"y":1.02,"s":"Unsig.[394]"},{"x":3.76,"y":1,"s":"Unsig.[394]"},{"x":0.99,"y":0.88,"s":"Unsig.[394]"},{"x":1.65,"y":0.87,"s":"Unsig.[394]"},{"x":2.05,"y":0.93,"s":"Unsig.[394]"},{"x":2.1,"y":0.85,"s":"Unsig.[394]"},{"x":1.78,"y":0.78,"s":"Unsig.[394]"},{"x":1.52,"y":0.75,"s":"Unsig.[394]"},{"x":2.23,"y":0.78,"s":"Unsig.[394]"},{"x":2.57,"y":0.78,"s":"Unsig.[394]"},{"x":2.97,"y":0.78,"s":"Unsig.[394]"},{"x":3.36,"y":0.76,"s":"Unsig.[394]"},{"x":3.57,"y":0.76,"s":"Unsig.[394]"},{"x":0.86,"y":0.72,"s":"Unsig.[394]"},{"x":1.73,"y":0.69,"s":"Unsig.[394]"},{"x":1.99,"y":0.71,"s":"Unsig.[394]"},{"x":2.31,"y":0.64,"s":"Unsig.[394]"},{"x":2.7,"y":0.66,"s":"Unsig.[394]"},{"x":3.1,"y":0.63,"s":"Unsig.[394]"},{"x":3.28,"y":0.57,"s":"Unsig.[394]"},{"x":4.02,"y":0.65,"s":"Unsig.[394]"},{"x":4.63,"y":0.69,"s":"Unsig.[394]"},{"x":4.55,"y":0.63,"s":"Unsig.[394]"},{"x":3.89,"y":0.6,"s":"Unsig.[394]"},{"x":4.15,"y":0.54,"s":"Unsig.[394]"},{"x":5.21,"y":0.54,"s":"Unsig.[394]"},{"x":3.63,"y":0.44,"s":"Unsig.[394]"},{"x":3.57,"y":0.41,"s":"Unsig.[394]"},{"x":3.89,"y":0.37,"s":"Unsig.[394]"},{"x":4.28,"y":0.4,"s":"Unsig.[394]"},{"x":2.84,"y":0.41,"s":"Unsig.[394]"},{"x":2.05,"y":0.41,"s":"Unsig.[394]"},{"x":2.31,"y":0.57,"s":"Unsig.[394]"},{"x":1.65,"y":0.6,"s":"Unsig.[394]"},{"x":1.39,"y":0.59,"s":"Unsig.[394]"},{"x":0.68,"y":0.61,"s":"Unsig.[394]"},{"x":0.99,"y":0.53,"s":"Unsig.[394]"},{"x":1.78,"y":0.53,"s":"Unsig.[394]"},{"x":1.26,"y":0.48,"s":"Unsig.[394]"},{"x":1.52,"y":0.47,"s":"Unsig.[394]"},{"x":0.47,"y":0.46,"s":"Unsig.[394]"},{"x":0.33,"y":0.4,"s":"Unsig.[394]"},{"x":0.86,"y":0.43,"s":"Unsig.[394]"},{"x":1.91,"y":0.48,"s":"Unsig.[394]"},{"x":2.18,"y":0.46,"s":"Unsig.[394]"},{"x":0.99,"y":0.34,"s":"Unsig.[394]"},{"x":1.26,"y":0.34,"s":"Unsig.[394]"},{"x":1.52,"y":0.31,"s":"Unsig.[394]"},{"x":1.78,"y":0.31,"s":"Unsig.[394]"},{"x":2.18,"y":0.22,"s":"Unsig.[394]"},{"x":2.52,"y":0.25,"s":"Unsig.[394]"},{"x":0.73,"y":0.28,"s":"Unsig.[394]"},{"x":0.47,"y":0.25,"s":"Unsig.[394]"},{"x":0.2,"y":0.19,"s":"Unsig.[394]"},{"x":0.6,"y":0.21,"s":"Unsig.[394]"},{"x":0.99,"y":0.25,"s":"Unsig.[394]"},{"x":1.26,"y":0.25,"s":"Unsig.[394]"},{"x":-0.06,"y":0.13,"s":"Unsig.[394]"},{"x":0.33,"y":0.13,"s":"Unsig.[394]"},{"x":0.07,"y":0.05,"s":"Unsig.[394]"},{"x":5.94,"y":0.51,"s":"Unsig.[394]"},{"x":5.73,"y":0.44,"s":"Unsig.[394]"},{"x":5.6,"y":0.41,"s":"Unsig.[394]"},{"x":7.19,"y":1.12,"s":"Unsig.[394]"},{"x":6.2,"y":0.69,"s":"Unsig.[394]"},{"x":6,"y":0.52,"s":"Unsig.[394]"},{"x":5.2,"y":0.54,"s":"Unsig.[394]"},{"x":5.68,"y":0.43,"s":"Unsig.[394]"},{"x":6.07,"y":0.35,"s":"Unsig.[394]"},{"x":7.19,"y":0.35,"s":"Unsig.[394]"},{"x":19.24,"y":1.19,"s":"Unsig.[394]"},
{"x":2.45,"y":2.63,"s":"Sig.Up[14]"},{"x":2.21,"y":2.02,"s":"Sig.Up[14]"},{"x":3.21,"y":1.88,"s":"Sig.Up[14]"},{"x":3.39,"y":1.8,"s":"Sig.Up[14]"},{"x":2.5,"y":1.73,"s":"Sig.Up[14]"},{"x":2.79,"y":1.63,"s":"Sig.Up[14]"},{"x":4.5,"y":2.16,"s":"Sig.Up[14]"},{"x":4.39,"y":1.54,"s":"Sig.Up[14]"},{"x":1.58,"y":1.54,"s":"Sig.Up[14]"},{"x":1.6,"y":1.49,"s":"Sig.Up[14]"},{"x":2.02,"y":1.54,"s":"Sig.Up[14]"},{"x":1.97,"y":1.39,"s":"Sig.Up[14]"},{"x":2.5,"y":1.37,"s":"Sig.Up[14]"},{"x":9.65,"y":1.88,"s":"Sig.Up[14]"},
{"x":-3.11,"y":2.44,"s":"Sig.Down[23]"},{"x":-2.43,"y":2.46,"s":"Sig.Down[23]"},{"x":-2.4,"y":2.15,"s":"Sig.Down[23]"},{"x":-1.5,"y":2.11,"s":"Sig.Down[23]"},{"x":-2.3,"y":2.03,"s":"Sig.Down[23]"},{"x":-1.88,"y":2.02,"s":"Sig.Down[23]"},{"x":-1.8,"y":2.01,"s":"Sig.Down[23]"},{"x":-2.03,"y":1.93,"s":"Sig.Down[23]"},{"x":-2.56,"y":1.88,"s":"Sig.Down[23]"},{"x":-1.9,"y":1.88,"s":"Sig.Down[23]"},{"x":-1.77,"y":1.88,"s":"Sig.Down[23]"},{"x":-1.48,"y":1.88,"s":"Sig.Down[23]"},{"x":-1.93,"y":1.82,"s":"Sig.Down[23]"},{"x":-2.14,"y":1.79,"s":"Sig.Down[23]"},{"x":-1.85,"y":1.8,"s":"Sig.Down[23]"},{"x":-1.19,"y":1.79,"s":"Sig.Down[23]"},{"x":-1.72,"y":1.63,"s":"Sig.Down[23]"},{"x":-1.64,"y":1.63,"s":"Sig.Down[23]"},{"x":-1.53,"y":1.61,"s":"Sig.Down[23]"},{"x":-1.88,"y":1.46,"s":"Sig.Down[23]"},{"x":-1.4,"y":1.4,"s":"Sig.Down[23]"},{"x":-3.32,"y":1.41,"s":"Sig.Down[23]"},{"x":-4.19,"y":1.38,"s":"Sig.Down[23]"}
]
},
"vconcat":[
{"hconcat":[
{"width":231,"height":193,
"layer":[
{"data":{"name":"heat"},"mark":{"type":"rect","strokeWidth":0},
"encoding":{"x":{"field":"c","type":"quantitative","scale":{"domain":[0.348,9.49],"nice":false,"zero":false},"axis":null},"x2":{"field":"c2"},"y":{"field":"r","type":"quantitative","scale":{"domain":[-2.28,60.65],"nice":false,"zero":false,"reverse":true},"axis":null},"y2":{"field":"r2"},
"fill":{"field":"v","type":"quantitative","scale":{"domain":[-2,-1,-0.3,0,0.5,1,1.5,2],"range":["#0b4e92","#63a8d4","#c4ddec","#ececec","#fbc6aa","#dc6450","#b5172c","#7a0422"]},"legend":{"orient":"none","legendX":207,"legendY":2.7,"title":null,"gradientLength":60,"gradientThickness":4,"labelFontSize":6,"values":[-2,-1,0,1,2],"labelColor":"#222","labelOffset":1.5,"gradientStrokeColor":"#888","gradientStrokeWidth":0.5}}}},
{"data":{"name":"dendro"},"mark":{"type":"rule","color":"#8c8c8c","strokeWidth":1},"encoding":{"x":{"field":"u","type":"quantitative"},"x2":{"field":"u2"},"y":{"field":"v","type":"quantitative"},"y2":{"field":"v2"}}},
{"data":{"name":"bars"},"mark":{"type":"rect"},"encoding":{"x":{"field":"u","type":"quantitative"},"x2":{"field":"u2"},"y":{"field":"v","type":"quantitative"},"y2":{"field":"v2"},"color":{"field":"k","type":"nominal","scale":{"domain":["1","2"],"range":["#e8134a","#2fad4a"]},"legend":null}}},
{"data":{"name":"rowmass"},"mark":{"type":"text","fontSize":3,"align":"left","baseline":"middle","color":"#111","stroke":"#111","strokeWidth":0.8},"encoding":{"x":{"datum":7.05,"type":"quantitative"},"y":{"field":"v","type":"quantitative"},"text":{"field":"t"}}},
{"data":{"name":"rowlong"},"mark":{"type":"text","fontSize":3,"align":"left","baseline":"middle","color":"#444"},"encoding":{"x":{"datum":7.5,"type":"quantitative"},"y":{"field":"v","type":"quantitative"},"text":{"field":"t"}}},
{"data":{"name":"atexts"},"mark":{"type":"text","fontSize":5,"align":"left","baseline":"middle","color":"#222"},"encoding":{"x":{"field":"u","type":"quantitative"},"y":{"field":"v","type":"quantitative"},"text":{"field":"t"}}},
{"data":{"values":[{"u":-0.87,"v":-7.66,"t":"A"},{"u":10.755,"v":-7.66,"t":"B"}]},"mark":{"type":"text","fontSize":12,"align":"center","baseline":"middle","color":"#222"},"encoding":{"x":{"field":"u","type":"quantitative"},"y":{"field":"v","type":"quantitative"},"text":{"field":"t"}}}
],
"resolve":{"scale":{"color":"independent"}}},
{"width":192,"height":193,"view":{"stroke":"#999","strokeWidth":1},
"title":{"text":"Scores Plot","fontSize":11.5,"fontWeight":"normal","font":"Liberation Sans","offset":6,"dx":8,"color":"#222"},
"layer":[
{"data":{"name":"ellipse"},"transform":[{"filter":"datum.g=='1'"}],"mark":{"type":"area","orient":"horizontal","color":"#f8ccd8"},"encoding":{"y":{"field":"y","type":"quantitative","scale":{"domain":[-29,28.9],"nice":false,"zero":false},"axis":{"values":[-20,-10,0,10,20],"grid":true,"gridColor":"#ececec","labelAngle":-90,"labelAlign":"center","labelBaseline":"bottom","labelFontSize":10.5,"labelColor":"#222","tickColor":"#888","tickSize":2,"labelPadding":0,"domain":false,"title":"Orthogonal T score[1](18.2%)","titleFontSize":12,"titleFontWeight":"normal","titleColor":"#222","titlePadding":3}},"x":{"field":"a","type":"quantitative","scale":{"domain":[-15.75,18.23],"nice":false,"zero":false},"axis":{"values":[-15,-10,-5,0,5,10,15],"grid":true,"gridColor":"#ececec","labelFontSize":10.5,"labelColor":"#222","tickColor":"#888","tickSize":3,"labelPadding":4,"domain":false,"title":"T score[1](38.3%)","titleFontSize":12,"titleFontWeight":"normal","titleColor":"#222","titlePadding":11}},"x2":{"field":"b"}}},
{"data":{"name":"ellipse"},"transform":[{"filter":"datum.g=='2'"}],"mark":{"type":"area","orient":"horizontal","color":"#d2edd2"},"encoding":{"y":{"field":"y","type":"quantitative"},"x":{"field":"a","type":"quantitative"},"x2":{"field":"b"}}},
{"data":{"name":"scores"},"mark":{"type":"point","filled":true,"size":20,"stroke":"#4a3a40","strokeWidth":0.8,"opacity":1},"encoding":{"x":{"field":"x","type":"quantitative"},"y":{"field":"y","type":"quantitative"},"fill":{"field":"g","type":"nominal","scale":{"domain":["1","2"],"range":["#ea82a5","#7fc389"]},"legend":{"orient":"top-right","offset":0,"title":null,"labelExpr":"''","labelFontSize":1,"symbolSize":9,"symbolStrokeWidth":0,"symbolOpacity":0.7,"padding":2,"strokeColor":"#888","rowPadding":0,"labelOffset":4,"fillColor":"white"}}}}
]}
],"spacing":34,"bounds":"flush"},
{"width":316.5,"height":169,
"layer":[
{"data":{"values":[{"x":0}]},"mark":{"type":"rule","color":"#dcdcdc","strokeWidth":1.5},"encoding":{"x":{"field":"x","type":"quantitative","scale":{"domain":[-5,20],"nice":false,"zero":false},"axis":{"values":[-5,0,5,10,15,20],"grid":true,"gridColor":"#f0f0f0","labelFontSize":10,"labelColor":"#222","ticks":false,"domainColor":"#cfcfcf","domainWidth":1.5,"labelPadding":4,"title":"Log2(FC)","titleFontSize":11,"titleFontWeight":"normal","titleColor":"#222","titlePadding":10}}}},
{"data":{"name":"volcano"},"mark":{"type":"point","filled":true,"size":10,"strokeWidth":0.8,"fillOpacity":0.6,"strokeOpacity":0.9},"encoding":{"x":{"field":"x","type":"quantitative"},"y":{"field":"y","type":"quantitative","scale":{"domain":[0,3],"nice":false,"zero":false},"axis":{"values":[0,0.5,1,1.5,2,2.5,3],"labelExpr":"datum.value==0?'0':datum.value==1?'1':format(datum.value,'.1f')","grid":true,"gridColor":"#f0f0f0","labelFontSize":10,"labelColor":"#222","ticks":false,"domainColor":"#e0e0e0","domainWidth":1.5,"labelPadding":6,"title":"-log10(P)","titleFontSize":11,"titleFontWeight":"normal","titleColor":"#222","titlePadding":6}},
"fill":{"field":"s","type":"nominal","scale":{"domain":["Sig.Down[23]","Sig.Up[14]","Unsig.[394]"],"range":["#d0defa","#fad5d5","#f2f2f5"]},"legend":{"orient":"none","legendX":72,"legendY":243,"direction":"horizontal","columns":3,"title":null,"labelFontSize":5.5,"labelColor":"#333","symbolType":"M-1,-0.35H1V0.35H-1Z","symbolSize":300,"symbolStrokeWidth":1,"symbolOpacity":1,"labelOffset":2,"columnPadding":2,"padding":0}},
"stroke":{"field":"s","type":"nominal","scale":{"domain":["Sig.Down[23]","Sig.Up[14]","Unsig.[394]"],"range":["#3a78dd","#df3f3f","#c6c6cc"]}}}},
{"data":{"values":[{"x":-7.08,"y":3.325,"t":"C"}]},"mark":{"type":"text","fontSize":12,"align":"center","baseline":"middle","color":"#222"},"encoding":{"x":{"field":"x","type":"quantitative"},"y":{"field":"y","type":"quantitative"},"text":{"field":"t"}}}
]}
]}
